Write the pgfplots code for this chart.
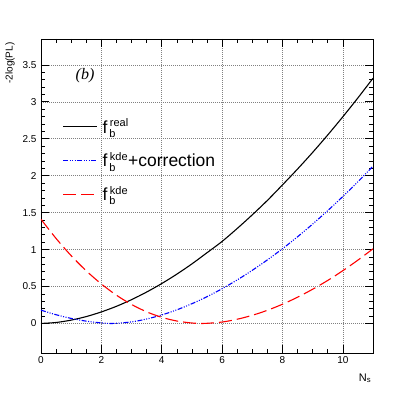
\documentclass[border=0pt]{standalone}
\usepackage{pgfplots}
\pgfplotsset{compat=1.18}
\usepackage{fontspec}
\setmainfont{Liberation Sans}
\newfontfamily\serifit{Liberation Serif}

% legend symbol: f with superscript and subscript
\newcommand\fsym[2]{\hspace*{3pt}f$^{\mbox{\hspace{2.5pt}\fontsize{11pt}{11pt}\selectfont #1}}_{\mbox{\hspace{2pt}\fontsize{11pt}{11pt}\selectfont #2}}$}

\begin{document}
\begin{tikzpicture}
\begin{axis}[
  scale only axis,
  width=332pt, height=314pt,
  xmin=0, xmax=11, ymin=-0.4, ymax=3.85,
  xtick={0,2,...,10}, ytick={0,0.5,...,3.5},
  minor x tick num=3, minor y tick num=4,
  tick align=inside, xtick pos=both, ytick pos=both,
  major tick length=8pt, minor tick length=4pt,
  tick style={black, line width=0.6pt},
  axis line style={line width=0.9pt},
  grid=major,
  major grid style={gray, dash pattern=on 1pt off 1pt, line width=0.5pt},
  tick label style={font=\fontsize{10pt}{12pt}\selectfont},
  /pgf/number format/assume math mode=true,
  yticklabel style={xshift=-1pt},
  ylabel={-2log(PL)},
  ylabel style={at={(axis description cs:-0.093,1)}, anchor=east, font=\fontsize{10pt}{12pt}\selectfont},
  xlabel={N\textsubscript{s}},
  xlabel style={at={(axis description cs:1.005,-0.08)}, anchor=east, font=\fontsize{11pt}{12pt}\selectfont},
  legend style={at={(axis description cs:0.055,0.759)}, anchor=north west, draw=none, fill=none,
    font=\fontsize{17.5pt}{20pt}\selectfont, row sep=14pt, legend cell align=left},
  legend image code/.code={\draw[#1] (0pt,0pt) -- (34pt,0pt);},
]
\addplot[black, line width=1.1pt, smooth] coordinates {
 (0,0) (0.5,0.013) (1,0.045) (1.5,0.093) (2,0.156) (2.5,0.232) (3,0.322) (3.5,0.425) (4,0.54)
 (4.5,0.667) (5,0.806) (5.5,0.957) (6,1.11) (6.5,1.285) (7,1.47) (7.5,1.665) (8,1.875)
 (8.5,2.09) (9,2.315) (9.5,2.551) (10,2.797) (10.5,3.053) (11,3.319)};
\addlegendentry{\fsym{real}{b}}
\addplot[blue, line width=1.1pt, smooth, dash pattern=on 5pt off 1.5pt on 1pt off 1.5pt on 1pt off 1.5pt on 1pt off 1.5pt] coordinates {
 (0,0.18) (0.5,0.118) (1,0.068) (1.5,0.031) (2,0.007) (2.4,0.0) (3,0.021) (3.5,0.06) (4,0.115)
 (4.5,0.184) (5,0.267) (5.5,0.362) (6,0.47) (6.5,0.589) (7,0.719) (7.5,0.86) (8,1.011)
 (8.5,1.173) (9,1.345) (9.5,1.527) (10,1.718) (10.5,1.918) (11,2.129)};
\addlegendentry{\fsym{kde}{b}+correction}
\addplot[red, line width=1.1pt, smooth, dash pattern=on 13pt off 5pt] coordinates {
 (0,1.41) (0.5,1.15) (1,0.917) (1.5,0.712) (2,0.534) (2.5,0.382) (3,0.257) (3.5,0.157) (4,0.083)
 (4.5,0.033) (5,0.006) (5.4,0.0) (6,0.019) (6.5,0.057) (7,0.11) (7.5,0.178) (8,0.26)
 (8.5,0.355) (9,0.463) (9.5,0.582) (10,0.714) (10.5,0.857) (11,1.01)};
\addlegendentry{\fsym{kde}{b}}
\node[font=\serifit\itshape\fontsize{16pt}{16pt}\selectfont] at (axis cs:1.46,3.36) {(b)};
\end{axis}
\path[use as bounding box] ([xshift=-41pt,yshift=-40pt]current axis.south west) rectangle ([xshift=42pt,yshift=39pt]current axis.north east);
\end{tikzpicture}
\end{document}
